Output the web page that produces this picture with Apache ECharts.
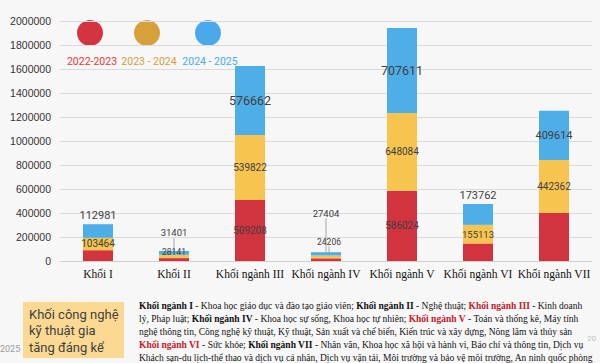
<!DOCTYPE html>
<html>
<head>
<meta charset="utf-8">
<script src="https://cdn.jsdelivr.net/npm/echarts@6/dist/echarts.min.js"></script>
<style>
html,body{margin:0;padding:0;background:#f7f7f7;}
#c{width:600px;height:363px;}
</style>
</head>
<body>
<div id="c"></div>
<script>
const categories = ['Khối I','Khối II','Khối ngành III','Khối ngành IV','Khối ngành V','Khối ngành VI','Khối ngành VII'];
const seriesNames = ['2022-2023','2023 - 2024','2024 - 2025'];
const y2223 = [90000, 24000, 509208, 22000, 586024, 146000, 400000];
const y2324 = [103464, 28141, 539822, 24206, 648084, 155113, 442362];
const y2425 = [112981, 31401, 576662, 27404, 707611, 173762, 409614];
const yTicks = [0, 200000, 400000, 600000, 800000, 1000000, 1200000, 1400000, 1600000, 1800000, 2000000];

const colors = ['#d1333f', '#f7c44f', '#4daee8'];
const legendColors = ['#d3343f', '#d6a13a', '#4aa9ea'];
const legendTextColors = ['#e8383d', '#d4a03a', '#4aa9ea'];

// label settings per series / index (style only)
const labelCfg = [
  // red
  [null, null, {size:10}, null, {size:10}, null, null],
  // yellow
  [{size:10}, {size:8.5, dy:-4}, {size:10}, {size:8.5, dy:-15, dx:3, line:true}, {size:10}, {size:9.5}, {size:10}],
  // blue
  [{size:11, pos:'top'}, {size:9.5, pos:'top', dy:-10, line:true}, {size:12.5}, {size:9.5, pos:'top', dy:-31, line:true}, {size:12.5}, {size:11, pos:'top'}, {size:11}]
];

function buildData(vals, s) {
  return vals.map((v, i) => {
    const c = labelCfg[s][i];
    if (!c) return {value: v, label: {show: false}};
    const item = {
      value: v,
      label: {show: true, position: c.pos || 'inside', fontSize: c.size, color: '#404040',
              fontFamily: 'Roboto, sans-serif', distance: 3}
    };
    if (c.line) item.labelLine = {show: true, lineStyle: {color: '#a8a8a8', width: 1}};
    return item;
  });
}

const allVals = [y2223, y2324, y2425];

const chart = echarts.init(document.getElementById('c'), null, {renderer: 'svg'});

const paraFont = '"Liberation Serif", "Times New Roman", serif';
const pf = 9.5;
const rich = {
  n: {fontFamily: paraFont, fontSize: pf, fill: '#111'},
  b: {fontFamily: paraFont, fontSize: pf, fill: '#111', fontWeight: 'bold'},
  r: {fontFamily: paraFont, fontSize: pf, fill: '#c0202a', fontWeight: 'bold'}
};
const paraLines = [
  '{b|Khối ngành I}{n| - Khoa học giáo dục và đào tạo giáo viên; }{b|Khối ngành II}{n| - Nghệ thuật; }{r|Khối ngành III}{n| - Kinh doanh}',
  '{n|lý, Pháp luật; }{b|Khối ngành IV}{n| - Khoa học sự sống, Khoa học tự nhiên; }{r|Khối ngành V}{n| - Toán và thống kê, Máy tính}',
  '{n|nghệ thông tin, Công nghệ kỹ thuật, Kỹ thuật, Sản xuất và chế biến, Kiến trúc và xây dựng, Nông lâm và thủy sản}',
  '{r|Khối ngành VI}{n| - Sức khỏe; }{b|Khối ngành VII}{n| - Nhân văn, Khoa học xã hội và hành vi, Báo chí và thông tin, Dịch vụ}',
  '{n|Khách sạn-du lịch-thể thao và dịch vụ cá nhân, Dịch vụ vận tải, Môi trường và bảo vệ môi trường, An ninh quốc phòng}'
];

const graphics = [];
const legendX = [90, 147, 208];
legendX.forEach((x, i) => {
  graphics.push({type: 'circle', shape: {cx: x, cy: 33, r: 13}, style: {fill: legendColors[i]}, silent: true});
  graphics.push({type: 'text', x: x + 2, y: 61, style: {text: seriesNames[i], fill: legendTextColors[i],
    font: '10.5px Roboto, sans-serif', textAlign: 'center', textVerticalAlign: 'middle'}});
});
// yellow note box
graphics.push({type: 'rect', shape: {x: 23, y: 302, width: 101, height: 56}, style: {fill: '#fbd993'}, silent: true});
['Khối công nghệ', 'kỹ thuật gia', 'tăng đáng kể'].forEach((t, i) => {
  graphics.push({type: 'text', x: 29, y: 314 + i * 16.5, style: {text: t, fill: '#404040',
    font: '13px Roboto, sans-serif', textVerticalAlign: 'middle'}});
});
graphics.push({type: 'text', x: 0, y: 349, style: {text: '2025', fill: '#9a9a9a', font: '9px Roboto, sans-serif', textVerticalAlign: 'middle'}});
paraLines.forEach((t, i) => {
  graphics.push({type: 'text', x: 139, y: 306 + i * 13, style: {text: t, rich: rich, textVerticalAlign: 'middle'}});
});
graphics.push({type: 'text', x: 587, y: 338, style: {text: '20', fill: '#c0c0c0', font: '8px Roboto, sans-serif', textVerticalAlign: 'middle'}});

chart.setOption({
  backgroundColor: '#f7f7f7',
  animation: false,
  grid: {left: 60, right: 8, top: 21, bottom: 102},
  xAxis: {
    type: 'category',
    data: categories,
    axisLine: {lineStyle: {color: '#d0d0d0'}},
    axisTick: {show: false},
    axisLabel: {color: '#111', fontFamily: paraFont, fontSize: 11.5, margin: 7, interval: 0}
  },
  yAxis: {
    type: 'value',
    min: yTicks[0],
    max: yTicks[yTicks.length - 1],
    interval: yTicks[1] - yTicks[0],
    axisLine: {show: false},
    axisTick: {show: false},
    splitLine: {lineStyle: {color: '#dadada'}},
    axisLabel: {color: '#333', fontFamily: '"Liberation Sans", Arial, sans-serif', fontSize: 10.5, margin: 9,
      formatter: function (v) { return String(v); }}
  },
  series: allVals.map((vals, s) => ({
    name: seriesNames[s],
    type: 'bar',
    stack: 'total',
    barWidth: 30,
    itemStyle: {color: colors[s]},
    data: buildData(vals, s),
    labelLayout: function (p) {
      const c = labelCfg[s][p.dataIndex];
      if (c && (c.dy || c.dx)) return {dx: c.dx || 0, dy: c.dy || 0};
      return {};
    }
  })),
  graphic: graphics
});
</script>
</body>
</html>
